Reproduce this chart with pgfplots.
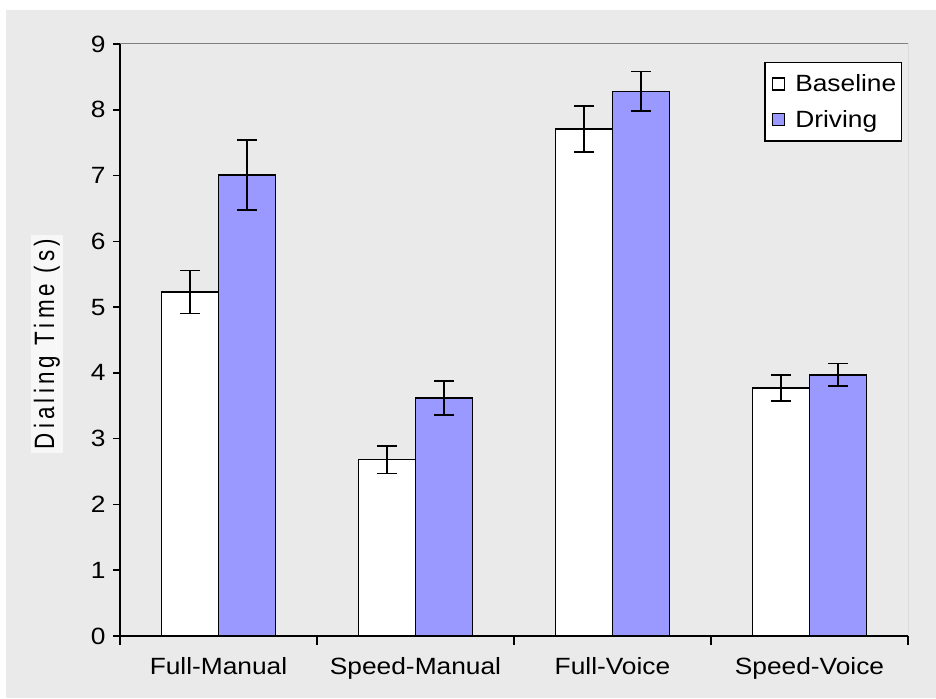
\documentclass[border=0pt]{standalone}
\usepackage{fontspec}
\setmainfont{Liberation Sans}[FakeStretch=1.12]
\newfontfamily\labfont{Liberation Sans}[FakeStretch=0.8, LetterSpace=15]
\usepackage{pgfplots}
\pgfplotsset{compat=1.18}
\definecolor{bgc}{HTML}{EAEAEA}
\definecolor{drv}{HTML}{9999FF}
\begin{document}
\begin{tikzpicture}
\fill[white] (0,0) rectangle (936pt,698pt);
\fill[bgc] (6pt,0) rectangle (936pt,688pt);
\begin{axis}[
  at={(120pt,62pt)}, anchor=south west,
  scale only axis, width=788pt, height=592pt,
  xmin=-0.5, xmax=3.5, ymin=0, ymax=9,
  axis x line*=bottom, axis y line*=left,
  axis line style={line width=2pt, -},
  ybar=0pt, bar width=57pt,
  xtick={0,1,2,3},
  xticklabels={Full-Manual,Speed-Manual,Full-Voice,Speed-Voice},
  minor xtick={-0.5,0.5,1.5,2.5,3.5},
  major x tick style={draw=none},
  minor tick length=9pt,
  major tick length=7pt,
  tick align=outside,
  tick style={line width=1.5pt, black},
  ytick={0,1,...,9},
  /pgf/number format/assume math mode=true,
  tick label style={font=\fontsize{23.5}{27}\selectfont},
  xticklabel style={yshift=-11pt},
  yticklabel style={xshift=-4pt},
  legend style={at={(rel axis cs:0.9924,0.9696)}, anchor=north east,
    draw=black, line width=1.5pt, fill=white,
    font=\fontsize{23.5}{27}\selectfont, row sep=13pt,
    inner xsep=3pt, inner ysep=10pt},
  legend image code/.code={\path (-4pt,0pt); \draw[line width=1.5pt,#1] (0pt,-6pt) rectangle (12pt,6pt); \path (20pt,0pt);},
  legend cell align=left,
]
\addplot[fill=white, draw=black, line width=1.5pt,
  error bars/.cd, y dir=both, y explicit,
  error bar style={line width=1.5pt, black},
  error mark options={rotate=90, mark size=10pt, line width=1.5pt, black}]
  coordinates {(0,5.23) +- (0,0.33) (1,2.68) +- (0,0.21) (2,7.71) +- (0,0.35) (3,3.77) +- (0,0.20)};
\addplot[fill=drv, draw=black, line width=1.5pt,
  error bars/.cd, y dir=both, y explicit,
  error bar style={line width=1.5pt, black},
  error mark options={rotate=90, mark size=10pt, line width=1.5pt, black}]
  coordinates {(0,7.01) +- (0,0.53) (1,3.62) +- (0,0.26) (2,8.28) +- (0,0.30) (3,3.97) +- (0,0.17)};
\legend{Baseline,Driving}
\draw[gray, line width=1pt] (rel axis cs:0,1) -- (rel axis cs:1,1) -- (rel axis cs:1,0);
\end{axis}
\node[rotate=90, fill=white!60!bgc, inner xsep=4pt, inner ysep=3pt, font=\labfont\fontsize{28}{30}\selectfont] at (47pt,354pt) {Dialing Time (s)};
\end{tikzpicture}
\end{document}
